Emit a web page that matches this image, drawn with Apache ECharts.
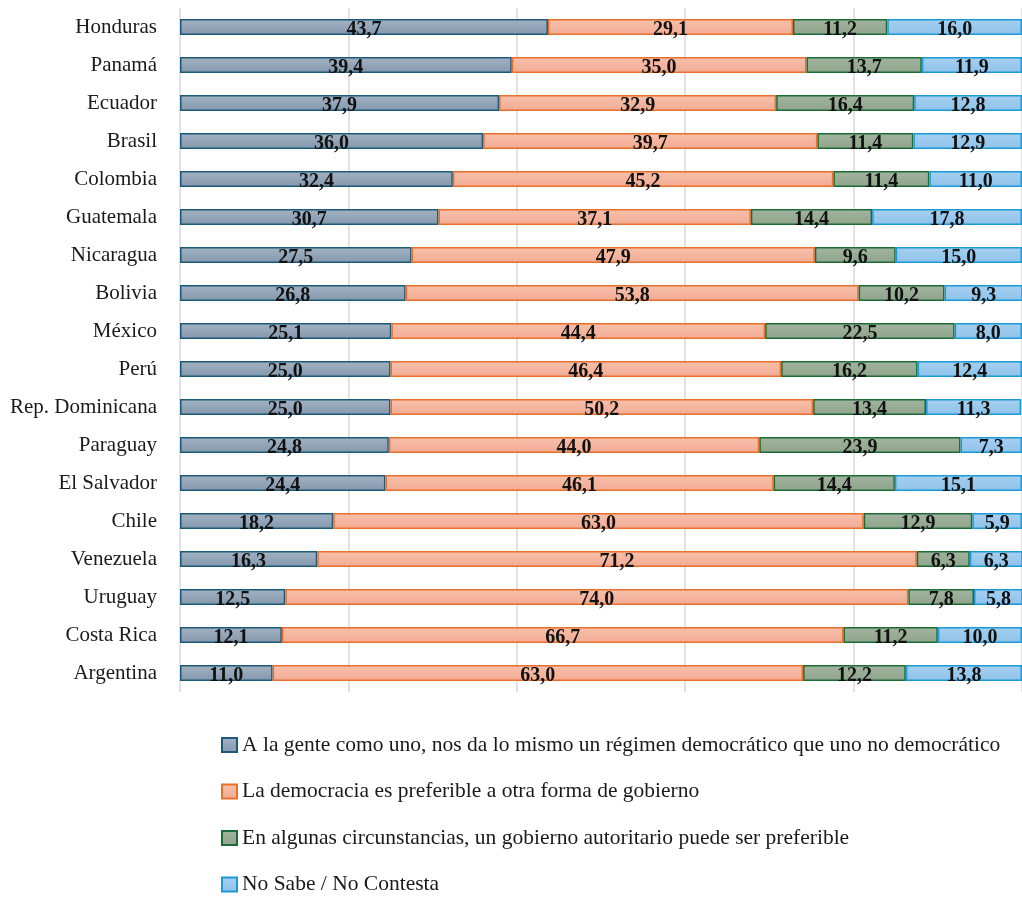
<!DOCTYPE html>
<html>
<head>
<meta charset="utf-8">
<script src="https://cdn.jsdelivr.net/npm/echarts@6/dist/echarts.min.js"></script>
<style>
html,body{margin:0;padding:0;background:#fff;}
#chart{width:1022px;height:897px;}
</style>
</head>
<body>
<div id="chart"></div>
<script>
const countries = ["Honduras","Panamá","Ecuador","Brasil","Colombia","Guatemala","Nicaragua","Bolivia","México","Perú","Rep. Dominicana","Paraguay","El Salvador","Chile","Venezuela","Uruguay","Costa Rica","Argentina"];
const seriesNames = [
  "A la gente como uno, nos da lo mismo un régimen democrático que uno no democrático",
  "La democracia es preferible a otra forma de gobierno",
  "En algunas circunstancias, un gobierno autoritario puede ser preferible",
  "No Sabe / No Contesta"
];
const indiferente = [43.7,39.4,37.9,36.0,32.4,30.7,27.5,26.8,25.1,25.0,25.0,24.8,24.4,18.2,16.3,12.5,12.1,11.0];
const democracia  = [29.1,35.0,32.9,39.7,45.2,37.1,47.9,53.8,44.4,46.4,50.2,44.0,46.1,63.0,71.2,74.0,66.7,63.0];
const autoritario = [11.2,13.7,16.4,11.4,11.4,14.4,9.6,10.2,22.5,16.2,13.4,23.9,14.4,12.9,6.3,7.8,11.2,12.2];
const nsnc        = [16.0,11.9,12.8,12.9,11.0,17.8,15.0,9.3,8.0,12.4,11.3,7.3,15.1,5.9,6.3,5.8,10.0,13.8];
const xTicks = [0,20,40,60,80,100];

const fontFam = '"Liberation Serif","DejaVu Serif",serif';
const styles = [
  {top:'#a3b3c4', bottom:'#8397ac', border:'#1d5a7a'},
  {top:'#f7c0ac', bottom:'#f2ab93', border:'#e8702a'},
  {top:'#a2b59f', bottom:'#8fa48b', border:'#1e6b3a'},
  {top:'#a6d0f0', bottom:'#8fc2ea', border:'#1b9ad6'}
];
const values = [indiferente, democracia, autoritario, nsnc];

const chart = echarts.init(document.getElementById('chart'), null, {renderer:'canvas'});
chart.setOption({
  animation:false,
  textStyle:{fontFamily:fontFam},
  grid:{left:180, right:0, top:8, bottom:205, containLabel:false},
  xAxis:{
    type:'value', min:xTicks[0], max:xTicks[xTicks.length-1], interval:xTicks[1]-xTicks[0],
    axisLabel:{show:false}, axisLine:{show:false}, axisTick:{show:false},
    splitLine:{show:true, lineStyle:{color:'#d9d9d9', width:1.5}}
  },
  yAxis:{
    type:'category', data:countries, inverse:true,
    axisLine:{show:false}, axisTick:{show:false},
    axisLabel:{fontFamily:fontFam, fontSize:21, color:'#1a1a1a', margin:23}
  },
  legend:{
    orient:'vertical', left:216, top:728, height:200, itemGap:22.5,
    itemWidth:15, itemHeight:14, icon:'rect',
    textStyle:{fontFamily:fontFam, fontSize:21.5, color:'#1a1a1a', lineHeight:24},
    data:seriesNames
  },
  series: values.map((v,i)=>({
    name:seriesNames[i], type:'bar', stack:'total', barWidth:16,
    data:v,
    itemStyle:{
      color:new echarts.graphic.LinearGradient(0,0,0,1,[{offset:0,color:styles[i].top},{offset:1,color:styles[i].bottom}]),
      borderColor:styles[i].border, borderWidth:1.5
    },
    label:{
      show:true, position:'inside', color:'#111', fontWeight:'bold', fontSize:20, fontFamily:fontFam,
      offset:[0,3],
      formatter:p=>p.value.toFixed(1).replace('.',',')
    }
  }))
});
</script>
</body>
</html>
